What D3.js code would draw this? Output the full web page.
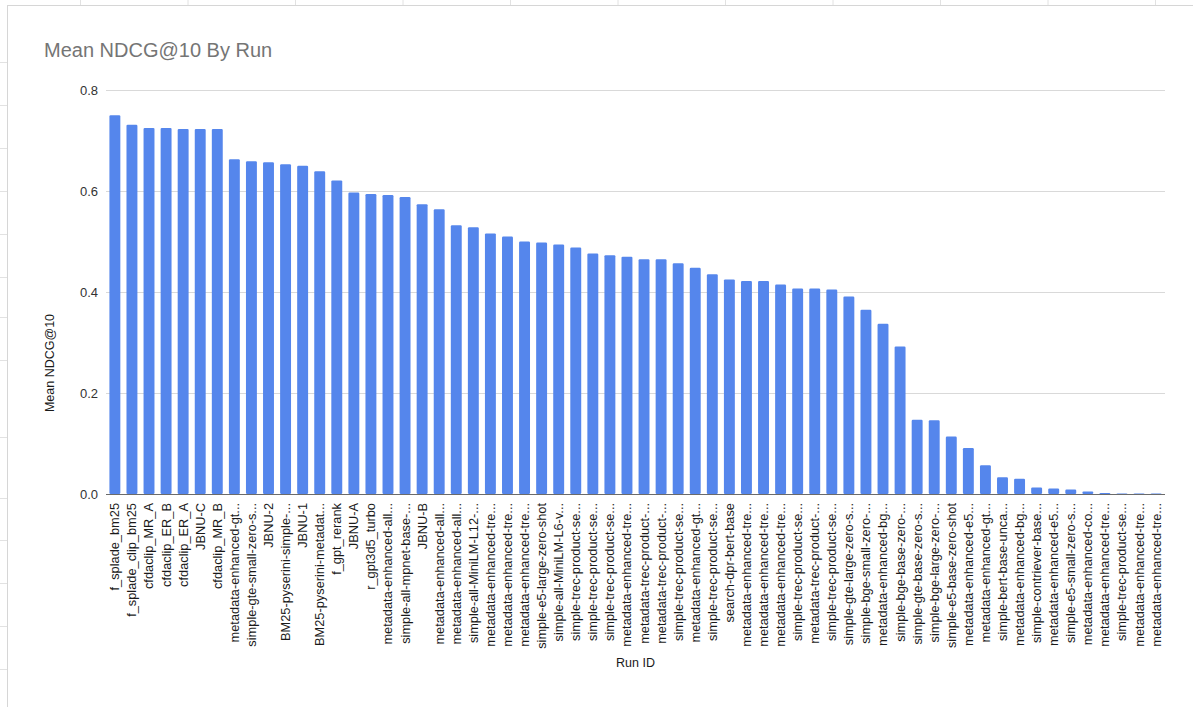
<!DOCTYPE html>
<html>
<head>
<meta charset="utf-8">
<script src="https://cdn.jsdelivr.net/npm/d3@7"></script>
<style>
  html, body { margin: 0; padding: 0; background: #fff; }
  svg { display: block; font-family: Arial, "Liberation Sans", sans-serif; }
</style>
</head>
<body>
<svg id="chart" width="1193" height="707"></svg>
<script>
// Run identifiers, in ranking order (truncated the way the sheet shows them)
const runIds = [
  "f_splade_bm25", "f_splade_clip_bm25", "cfdaclip_MR_A", "cfdaclip_ER_B", "cfdaclip_ER_A",
  "JBNU-C", "cfdaclip_MR_B", "metadata-enhanced-gt...", "simple-gte-small-zero-s...", "JBNU-2",
  "BM25-pyserini-simple-...", "JBNU-1", "BM25-pyserini-metadat...", "f_gpt_rerank", "JBNU-A",
  "r_gpt3d5_turbo", "metadata-enhanced-all...", "simple-all-mpnet-base-...", "JBNU-B", "metadata-enhanced-all...",
  "metadata-enhanced-all...", "simple-all-MiniLM-L12-...", "metadata-enhanced-tre...", "metadata-enhanced-tre...", "metadata-enhanced-tre...",
  "simple-e5-large-zero-shot", "simple-all-MiniLM-L6-v...", "simple-trec-product-se...", "simple-trec-product-se...", "simple-trec-product-se...",
  "metadata-enhanced-tre...", "metadata-trec-product-...", "metadata-trec-product-...", "simple-trec-product-se...", "metadata-enhanced-gt...",
  "simple-trec-product-se...", "search-dpr-bert-base", "metadata-enhanced-tre...", "metadata-enhanced-tre...", "metadata-enhanced-tre...",
  "simple-trec-product-se...", "metadata-trec-product-...", "simple-trec-product-se...", "simple-gte-large-zero-s...", "simple-bge-small-zero-...",
  "metadata-enhanced-bg...", "simple-bge-base-zero-...", "simple-gte-base-zero-s...", "simple-bge-large-zero-...", "simple-e5-base-zero-shot",
  "metadata-enhanced-e5...", "metadata-enhanced-gt...", "simple-bert-base-unca...", "metadata-enhanced-bg...", "simple-contriever-base...",
  "metadata-enhanced-e5...", "simple-e5-small-zero-s...", "metadata-enhanced-co...", "metadata-enhanced-tre...", "simple-trec-product-se...",
  "metadata-enhanced-tre...", "metadata-enhanced-tre..."
];

// Mean NDCG@10 for each run
const meanNdcg = [
  0.750, 0.731, 0.725, 0.725, 0.723,
  0.723, 0.723, 0.663, 0.659, 0.657,
  0.653, 0.650, 0.639, 0.621, 0.597,
  0.594, 0.592, 0.588, 0.574, 0.564,
  0.532, 0.528, 0.516, 0.510, 0.500,
  0.498, 0.494, 0.488, 0.476, 0.473,
  0.470, 0.465, 0.465, 0.457, 0.448,
  0.435, 0.425, 0.422, 0.422, 0.415,
  0.407, 0.407, 0.405, 0.391, 0.365,
  0.337, 0.292, 0.147, 0.146, 0.114,
  0.091, 0.057, 0.033, 0.030, 0.013,
  0.011, 0.009, 0.005, 0.002, 0.001,
  0.001, 0.001
];

const yTicks = [0, 0.2, 0.4, 0.6, 0.8];

const chartTitle = "Mean NDCG@10 By Run";
const xTitle = "Run ID";
const yTitle = "Mean NDCG@10";

const svg = d3.select("#chart");
const W = 1193, H = 707;
const plot = { left: 106, right: 1165, top: 90, bottom: 494 };

// Spreadsheet cell lines showing around the embedded chart
const sheet = svg.append("g").attr("stroke", "#e2e2e2").attr("stroke-width", 1);
for (let x = 80; x < W; x += 107.5) {
  sheet.append("line").attr("x1", x + 0.5).attr("x2", x + 0.5).attr("y1", 0).attr("y2", 5);
}
[62, 105, 148, 191, 234, 277, 317, 360, 437, 498, 540, 583, 626, 669].forEach(y => {
  sheet.append("line").attr("x1", 0).attr("x2", 7).attr("y1", y + 0.5).attr("y2", y + 0.5);
});

// Chart card frame
svg.append("rect").attr("x", 7.5).attr("y", 5.5).attr("width", W).attr("height", H)
  .attr("fill", "#fff").attr("stroke", "#d6d6d6");

const x = d3.scaleBand()
  .domain(d3.range(runIds.length))
  .range([plot.left, plot.right])
  .paddingInner(0.36)
  .paddingOuter(0.2);

const y = d3.scaleLinear().domain([0, 0.8]).range([plot.bottom, plot.top]);

// Horizontal gridlines
svg.append("g")
  .selectAll("line")
  .data(yTicks.filter(t => t > 0))
  .join("line")
  .attr("x1", plot.left).attr("x2", plot.right)
  .attr("y1", d => Math.round(y(d)) + 0.5).attr("y2", d => Math.round(y(d)) + 0.5)
  .attr("stroke", "#d9d9d9").attr("stroke-width", 1);

// Y axis labels
const yAxis = svg.append("g")
  .attr("transform", `translate(${plot.left},0)`)
  .call(d3.axisLeft(y).tickValues(yTicks).tickFormat(d3.format(".1f")).tickSize(0).tickPadding(8));
yAxis.select(".domain").remove();
yAxis.selectAll("text").attr("font-size", 13).attr("fill", "#333")
  .attr("font-family", "Arial, 'Liberation Sans', sans-serif");

// Bars
svg.append("g")
  .selectAll("rect")
  .data(meanNdcg)
  .join("rect")
  .attr("x", (d, i) => x(i))
  .attr("width", x.bandwidth())
  .attr("y", d => y(d))
  .attr("height", d => y(0) - y(d))
  .attr("rx", 1.2)
  .attr("fill", "#5586ec");

// Baseline
svg.append("line")
  .attr("x1", plot.left).attr("x2", plot.right)
  .attr("y1", y(0) + 0.5).attr("y2", y(0) + 0.5)
  .attr("stroke", "#6b6b6b").attr("stroke-width", 1.2);

// X axis category labels
const xAxis = svg.append("g")
  .attr("transform", `translate(0,${plot.bottom})`)
  .call(d3.axisBottom(x).tickFormat(i => runIds[i]).tickSize(0).tickPadding(0));
xAxis.select(".domain").remove();
xAxis.selectAll("text")
  .attr("font-size", 12.8)
  .attr("fill", "#1a1a1a")
  .attr("font-family", "Arial, 'Liberation Sans', sans-serif")
  .attr("text-anchor", "end")
  .attr("transform", "rotate(-90)")
  .attr("x", -9)
  .attr("y", 0)
  .attr("dy", "0.35em");

// Titles
svg.append("text")
  .attr("x", 44).attr("y", 57)
  .attr("font-size", 20).attr("fill", "#757575")
  .text(chartTitle);

svg.append("text")
  .attr("x", (plot.left + plot.right) / 2).attr("y", 667)
  .attr("text-anchor", "middle")
  .attr("font-size", 12.5).attr("fill", "#1a1a1a")
  .text(xTitle);

svg.append("text")
  .attr("transform", "translate(54,363) rotate(-90)")
  .attr("text-anchor", "middle")
  .attr("font-size", 12.5).attr("fill", "#1a1a1a")
  .text(yTitle);
</script>
</body>
</html>
